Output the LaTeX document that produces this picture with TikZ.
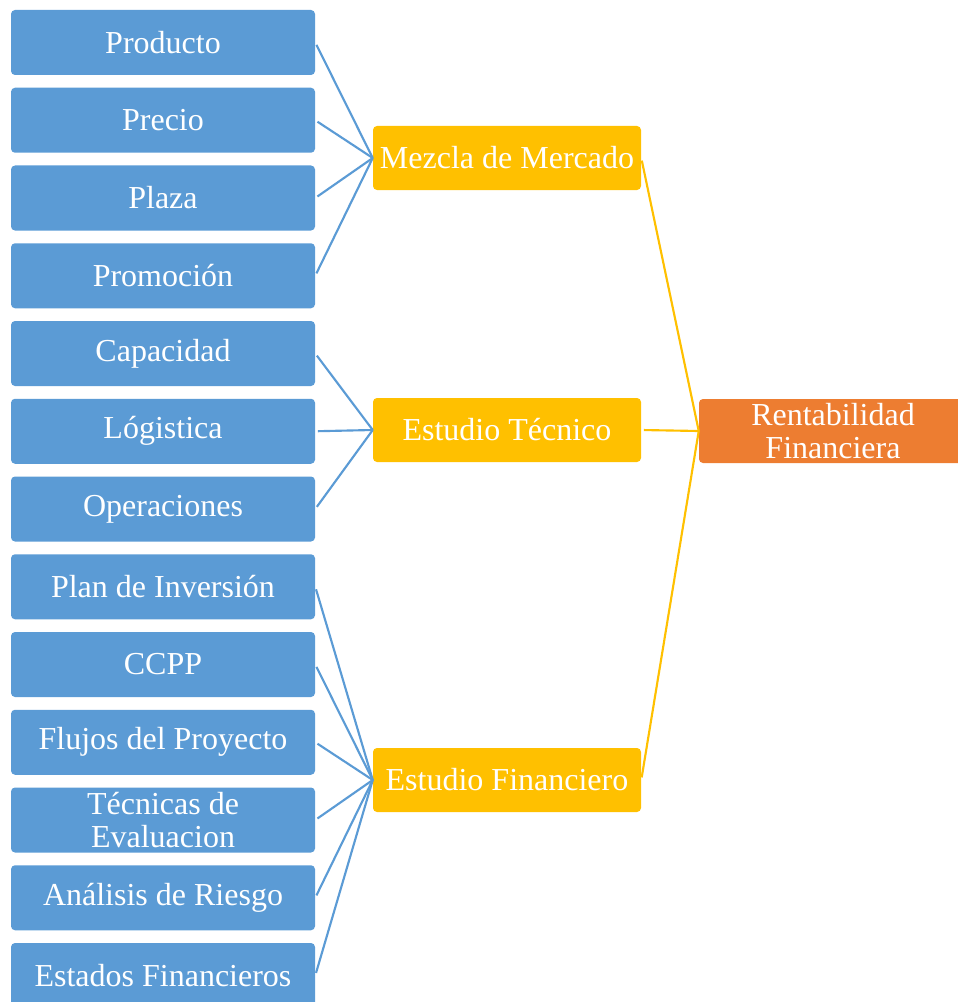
\documentclass[tikz,border=0pt]{standalone}
\usepackage{fontspec}
\setmainfont{Liberation Serif}
\definecolor{cajaazul}{HTML}{5B9BD5}
\definecolor{cajaamarilla}{HTML}{FFC000}
\definecolor{cajanaranja}{HTML}{ED7D31}
\tikzset{
	caja/.style={rounded corners=3pt,text=white,align=center,inner sep=0pt,
		font=\fontsize{24}{24.5}\selectfont},
	hoja/.style={caja,fill=cajaazul,minimum width=228pt,minimum height=48.75pt},
	estudio/.style={caja,fill=cajaamarilla,minimum width=201pt,minimum height=48pt},
	meta/.style={caja,fill=cajanaranja,minimum width=201pt,minimum height=48pt},
	lineaazul/.style={cajaazul,line width=1.6pt,shorten <=2pt},
	lineaamarilla/.style={cajaamarilla,line width=1.6pt,shorten <=2pt},
}

\begin{document}
\begin{tikzpicture}[x=0.75pt,y=-0.75pt]
		\useasboundingbox (0,0) rectangle (957,1002);
		\foreach \txt [count=\i] in {Producto,Precio,Plaza,Promoción,Capacidad,Lógistica,Operaciones,Plan de Inversión,CCPP,Flujos del Proyecto,{Técnicas de\\Evaluacion},Análisis de Riesgo,Estados Financieros}
			\node[hoja] (h\i) at (163,{42.5+(\i-1)*77.75}) {\txt};
		\node[estudio] (mezcla) at (507,158) {Mezcla de Mercado};
		\node[estudio] (tecnico) at (507,430) {Estudio Técnico};
		\node[estudio] (financiero) at (507,780) {Estudio Financiero};
		\node[meta] (renta) at (833,431) {Rentabilidad\\Financiera};
		\foreach \i in {1,...,4} \draw[lineaazul] (h\i.east) -- (mezcla.west);
		\foreach \i in {5,...,7} \draw[lineaazul] (h\i.east) -- (tecnico.west);
		\foreach \i in {8,...,13} \draw[lineaazul] (h\i.east) -- (financiero.west);
		\foreach \e in {mezcla,tecnico,financiero} \draw[lineaamarilla] (\e.east) -- (renta.west);
	\end{tikzpicture}
\end{document}
